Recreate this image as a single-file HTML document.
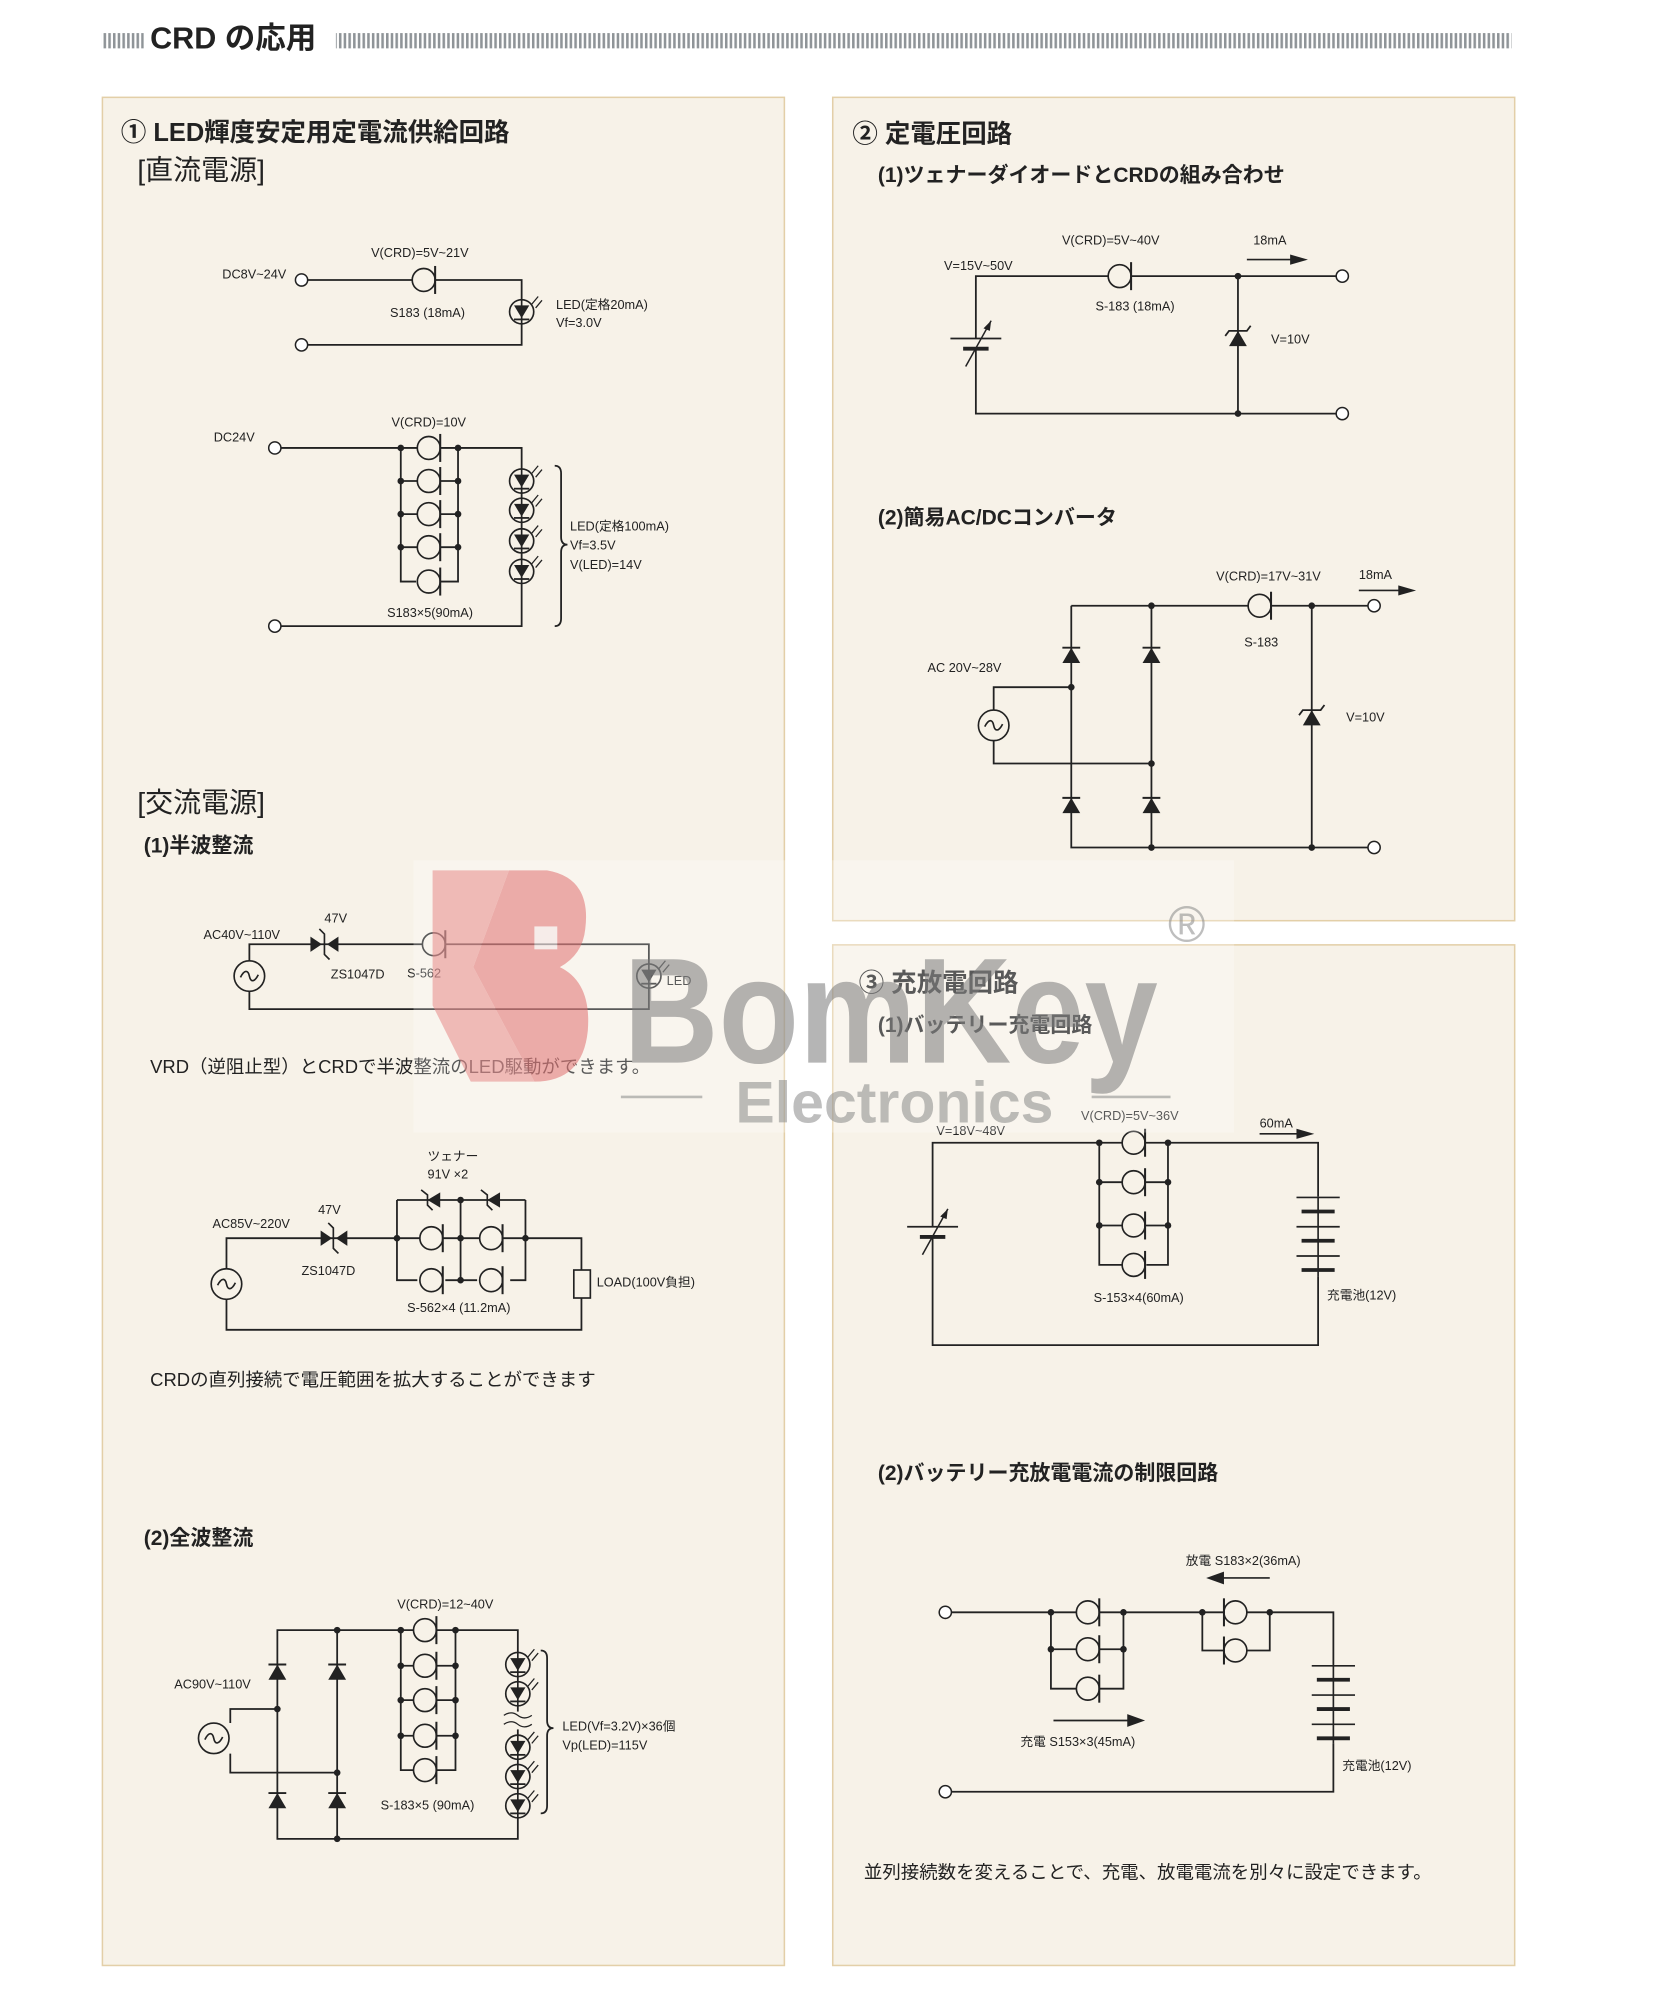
<!DOCTYPE html>
<html><head><meta charset="utf-8">
<style>
html,body{margin:0;padding:0;background:#fff;}
svg{display:block;}
text{font-family:"Liberation Sans","Noto Sans CJK JP",sans-serif;fill:#222;}
.h1{font-size:20px;font-weight:bold;}
.h2{font-size:16.5px;font-weight:bold;}
.br{font-size:22px;}
.lb{font-size:10px;}
.tx{font-size:14.5px;}
.w{stroke:#222;stroke-width:1.4;fill:none;}
</style></head>
<body>
<svg width="1654" height="2003" viewBox="0 0 1300 1574" preserveAspectRatio="none" xmlns="http://www.w3.org/2000/svg">
<defs>
<pattern id="bars" width="3.7" height="10" patternUnits="userSpaceOnUse"><rect x="0" y="0" width="2" height="10" fill="#8f9498"/></pattern>
<g id="crd"><circle cx="0" cy="0" r="9" fill="#f7f2e8" stroke="#222" stroke-width="1.3"/><line x1="9" y1="-11" x2="9" y2="11" stroke="#222" stroke-width="1.6"/></g>
<g id="led"><circle cx="0" cy="0" r="9.5" fill="#f7f2e8" stroke="#222" stroke-width="1.3"/><polygon points="-6,-5 6,-5 0,5" fill="#222"/><line x1="-6" y1="6" x2="6" y2="6" stroke="#222" stroke-width="1.4"/><line x1="0" y1="-10" x2="0" y2="10" stroke="#222" stroke-width="1.3"/><path d="M8,-6 L13,-12 M11,-3 L16,-9" stroke="#222" stroke-width="1"/></g>
<g id="dup"><polygon points="-7,6 7,6 0,-6" fill="#222"/><line x1="-7" y1="-6" x2="7" y2="-6" stroke="#222" stroke-width="1.5"/></g>
<g id="zup"><polygon points="-7,6 7,6 0,-6" fill="#222"/><path d="M-10,-2 L-7,-6 L7,-6 L10,-10" stroke="#222" stroke-width="1.4" fill="none"/></g>
<g id="ac"><circle cx="0" cy="0" r="12" fill="#f7f2e8" stroke="#222" stroke-width="1.3"/><path d="M-7,1 C-4,-5 -1,-5 0,0 C1,5 4,5 7,-1" stroke="#222" stroke-width="1.3" fill="none"/></g>
<g id="dot"><circle r="2.6" fill="#222"/></g>
<g id="term"><circle r="4.8" fill="#fff" stroke="#222" stroke-width="1.2"/></g>
<g id="vbat"><line x1="-20" y1="-4" x2="20" y2="-4" stroke="#222" stroke-width="1.3"/><line x1="-10" y1="4" x2="10" y2="4" stroke="#222" stroke-width="3"/><path d="M-8,18 L12,-18" stroke="#222" stroke-width="1.2"/><polygon points="12,-18 6,-12 11,-10" fill="#222"/></g>
<g id="cell"><line x1="-17" y1="0" x2="17" y2="0" stroke="#222" stroke-width="1.3"/><line x1="-13" y1="11" x2="13" y2="11" stroke="#222" stroke-width="3"/></g>
</defs>

<rect x="0" y="0" width="1300" height="1574" fill="#fff"/>
<!-- header -->
<rect x="80" y="26" width="33" height="12" fill="url(#bars)"/>
<text x="118" y="38" style="font-size:24px;font-weight:bold">CRD の応用</text>
<rect x="264" y="26" width="924" height="12" fill="url(#bars)"/>

<!-- panels -->
<rect x="80.5" y="76.5" width="536" height="1468" fill="#f7f2e8" stroke="#e3cfa8" stroke-width="1.2"/>
<rect x="654.5" y="76.5" width="536" height="647" fill="#f7f2e8" stroke="#e3cfa8" stroke-width="1.2"/>
<rect x="654.5" y="742.5" width="536" height="802" fill="#f7f2e8" stroke="#e3cfa8" stroke-width="1.2"/>

<!-- LEFT PANEL -->
<text x="95" y="111" class="h1">① LED輝度安定用定電流供給回路</text>
<text x="108" y="141" class="br">[直流電源]</text>

<path class="w" d="M242,220 H410 V271 H242"/>
<use href="#crd" x="333" y="220"/>
<use href="#led" x="410" y="245"/>
<use href="#term" x="237" y="220"/><use href="#term" x="237" y="271"/>
<text x="330" y="202" class="lb" text-anchor="middle">V(CRD)=5V~21V</text>
<text x="225" y="219" class="lb" text-anchor="end">DC8V~24V</text>
<text x="336" y="249" class="lb" text-anchor="middle">S183 (18mA)</text>
<text x="437" y="243" class="lb">LED(定格20mA)</text>
<text x="437" y="257" class="lb">Vf=3.0V</text>

<path class="w" d="M221,352 H410 V492 H221 M315,352 V457 H327 M360,352 V457 H346 M315,378 H360 M315,404 H360 M315,430 H360"/>
<use href="#crd" x="337" y="352"/><use href="#crd" x="337" y="378"/><use href="#crd" x="337" y="404"/><use href="#crd" x="337" y="430"/><use href="#crd" x="337" y="457"/>
<use href="#dot" x="315" y="352"/><use href="#dot" x="360" y="352"/><use href="#dot" x="315" y="378"/><use href="#dot" x="360" y="378"/><use href="#dot" x="315" y="404"/><use href="#dot" x="360" y="404"/><use href="#dot" x="315" y="430"/><use href="#dot" x="360" y="430"/>
<use href="#led" x="410" y="378"/><use href="#led" x="410" y="401"/><use href="#led" x="410" y="425"/><use href="#led" x="410" y="449"/>
<use href="#term" x="216" y="352"/><use href="#term" x="216" y="492"/>
<path class="w" d="M436,366 Q441,366 441,372 V422 Q441,428 446,428 Q441,428 441,434 V486 Q441,492 436,492" stroke-width="1.1"/>
<text x="337" y="335" class="lb" text-anchor="middle">V(CRD)=10V</text>
<text x="168" y="347" class="lb">DC24V</text>
<text x="338" y="485" class="lb" text-anchor="middle">S183×5(90mA)</text>
<text x="448" y="417" class="lb">LED(定格100mA)</text>
<text x="448" y="432" class="lb">Vf=3.5V</text>
<text x="448" y="447" class="lb">V(LED)=14V</text>

<text x="108" y="638" class="br">[交流電源]</text>
<text x="113" y="670" class="h2">(1)半波整流</text>

<path class="w" d="M196,755 V742 H510 V793 H196 V779"/>
<polygon points="244,736 244,748 253,742" fill="#222"/><polygon points="266,736 266,748 257,742" fill="#222"/>
<path d="M251,730 L255,734 V750 L259,754" stroke="#222" stroke-width="1.3" fill="none"/>
<use href="#crd" x="341" y="742"/>
<use href="#led" x="510" y="767"/>
<use href="#ac" x="196" y="767"/>
<text x="160" y="738" class="lb">AC40V~110V</text>
<text x="255" y="725" class="lb">47V</text>
<text x="260" y="769" class="lb">ZS1047D</text>
<text x="320" y="768" class="lb" fill="#555">S-562</text>
<text x="524" y="774" class="lb">LED</text>
<text x="118" y="843" class="tx">VRD（逆阻止型）とCRDで半波整流のLED駆動ができます。</text>

<path class="w" d="M178,997 V973 H413 H457 V998 M457,1020 V1045 H178 V1021 M312,943 V1006 H328 M362,943 V1006 M413,943 V1006 H401 M312,943 H413 M350,1006 H375"/>
<polygon points="252,967 252,979 261,973" fill="#222"/><polygon points="273,967 273,979 264,973" fill="#222"/>
<path d="M258,961 L262,965 V981 L266,985" stroke="#222" stroke-width="1.3" fill="none"/>
<polygon points="346,937 346,949 336,943" fill="#222"/><path d="M331,935 L336,939 V947 L340,951" stroke="#222" stroke-width="1.3" fill="none"/>
<polygon points="393,937 393,949 383,943" fill="#222"/><path d="M378,935 L383,939 V947 L387,951" stroke="#222" stroke-width="1.3" fill="none"/>
<use href="#crd" x="339" y="973"/><use href="#crd" x="386" y="973"/><use href="#crd" x="339" y="1006"/><use href="#crd" x="386" y="1006"/>
<use href="#dot" x="312" y="973"/><use href="#dot" x="362" y="943"/><use href="#dot" x="362" y="973"/><use href="#dot" x="362" y="1006"/><use href="#dot" x="413" y="973"/>
<rect x="451" y="998" width="13" height="22" fill="#f7f2e8" stroke="#222" stroke-width="1.3"/>
<use href="#ac" x="178" y="1009"/>
<text x="336" y="912" class="lb">ツェナー</text>
<text x="336" y="926" class="lb">91V ×2</text>
<text x="167" y="965" class="lb">AC85V~220V</text>
<text x="250" y="954" class="lb">47V</text>
<text x="237" y="1002" class="lb">ZS1047D</text>
<text x="469" y="1011" class="lb">LOAD(100V負担)</text>
<text x="320" y="1031" class="lb">S-562×4 (11.2mA)</text>
<text x="118" y="1089" class="tx">CRDの直列接続で電圧範囲を拡大することができます</text>

<text x="113" y="1214" class="h2">(2)全波整流</text>
<path class="w" d="M218,1281 H407 V1445 H218 Z M265,1281 V1445 M181,1354 V1343 H218 M181,1378 V1393 H265 M315,1281 V1391 H326 M358,1281 V1391 H343 M315,1309 H358 M315,1336 H358 M315,1364 H358"/>
<use href="#dup" x="218" y="1314"/><use href="#dup" x="265" y="1314"/><use href="#dup" x="218" y="1415"/><use href="#dup" x="265" y="1415"/>
<use href="#ac" x="168" y="1366"/>
<use href="#crd" x="334" y="1281"/><use href="#crd" x="334" y="1309"/><use href="#crd" x="334" y="1336"/><use href="#crd" x="334" y="1364"/><use href="#crd" x="334" y="1391"/>
<use href="#dot" x="265" y="1281"/><use href="#dot" x="265" y="1445"/><use href="#dot" x="218" y="1343"/><use href="#dot" x="265" y="1393"/>
<use href="#dot" x="315" y="1281"/><use href="#dot" x="358" y="1281"/><use href="#dot" x="315" y="1309"/><use href="#dot" x="358" y="1309"/><use href="#dot" x="315" y="1336"/><use href="#dot" x="358" y="1336"/><use href="#dot" x="315" y="1364"/><use href="#dot" x="358" y="1364"/>
<rect x="398" y="1345" width="18" height="14" fill="#f7f2e8"/>
<path d="M396,1348 Q402,1344 407,1348 T418,1348 M396,1355 Q402,1351 407,1355 T418,1355" stroke="#222" stroke-width="1" fill="none"/>
<use href="#led" x="407" y="1308"/><use href="#led" x="407" y="1331"/><use href="#led" x="407" y="1373"/><use href="#led" x="407" y="1396"/><use href="#led" x="407" y="1419"/>
<path class="w" d="M425,1297 Q430,1297 430,1303 V1352 Q430,1358 435,1358 Q430,1358 430,1364 V1419 Q430,1425 425,1425" stroke-width="1.1"/>
<text x="350" y="1264" class="lb" text-anchor="middle">V(CRD)=12~40V</text>
<text x="137" y="1327" class="lb">AC90V~110V</text>
<text x="336" y="1422" class="lb" text-anchor="middle">S-183×5 (90mA)</text>
<text x="442" y="1360" class="lb">LED(Vf=3.2V)×36個</text>
<text x="442" y="1375" class="lb">Vp(LED)=115V</text>

<!-- RIGHT PANEL 2 -->
<text x="670" y="112" class="h1">② 定電圧回路</text>
<text x="690" y="143" class="h2">(1)ツェナーダイオードとCRDの組み合わせ</text>
<path class="w" d="M767,266 V217 H1050 M973,217 V325 M767,274 V325 H1050"/>
<use href="#crd" x="880" y="217"/>
<use href="#dot" x="973" y="217"/><use href="#dot" x="973" y="325"/>
<use href="#zup" x="973" y="266"/>
<use href="#vbat" x="767" y="270"/>
<use href="#term" x="1055" y="217"/><use href="#term" x="1055" y="325"/>
<path d="M980,204 H1016" stroke="#222" stroke-width="1.3"/><polygon points="1014,200 1028,204 1014,208" fill="#222"/>
<text x="873" y="192" class="lb" text-anchor="middle">V(CRD)=5V~40V</text>
<text x="985" y="192" class="lb">18mA</text>
<text x="742" y="212" class="lb">V=15V~50V</text>
<text x="861" y="244" class="lb">S-183 (18mA)</text>
<text x="999" y="270" class="lb">V=10V</text>

<text x="690" y="412" class="h2">(2)簡易AC/DCコンバータ</text>
<path class="w" d="M842,476 H1075 M842,476 V666 H1075 M905,476 V666 M781,558 V540 H842 M781,582 V600 H905 M1031,476 V666"/>
<use href="#dup" x="842" y="515"/><use href="#dup" x="905" y="515"/><use href="#dup" x="842" y="633"/><use href="#dup" x="905" y="633"/>
<use href="#ac" x="781" y="570"/>
<use href="#crd" x="990" y="476"/>
<use href="#zup" x="1031" y="564"/>
<use href="#dot" x="905" y="476"/><use href="#dot" x="1031" y="476"/><use href="#dot" x="842" y="540"/><use href="#dot" x="905" y="600"/><use href="#dot" x="905" y="666"/><use href="#dot" x="1031" y="666"/>
<use href="#term" x="1080" y="476"/><use href="#term" x="1080" y="666"/>
<path d="M1068,464 H1101" stroke="#222" stroke-width="1.3"/><polygon points="1099,460 1113,464 1099,468" fill="#222"/>
<text x="997" y="456" class="lb" text-anchor="middle">V(CRD)=17V~31V</text>
<text x="1068" y="455" class="lb">18mA</text>
<text x="978" y="508" class="lb">S-183</text>
<text x="729" y="528" class="lb">AC 20V~28V</text>
<text x="1058" y="567" class="lb">V=10V</text>

<!-- RIGHT PANEL 3 -->
<text x="675" y="779" class="h1">③ 充放電回路</text>
<text x="690" y="811" class="h2">(1)バッテリー充電回路</text>
<path class="w" d="M733,964 V898 H1036 V940 M733,972 V1057 H1036 V1003 M864,898 V994 H882 M918,898 V994 H901 M864,929 H918 M864,963 H918"/>
<use href="#crd" x="891" y="898"/><use href="#crd" x="891" y="929"/><use href="#crd" x="891" y="963"/><use href="#crd" x="891" y="994"/>
<use href="#dot" x="864" y="898"/><use href="#dot" x="918" y="898"/><use href="#dot" x="864" y="929"/><use href="#dot" x="918" y="929"/><use href="#dot" x="864" y="963"/><use href="#dot" x="918" y="963"/>
<use href="#vbat" x="733" y="968"/>
<path d="M1036,940 V1003" stroke="#222" stroke-width="1.3"/>
<use href="#cell" x="1036" y="941"/><use href="#cell" x="1036" y="964"/><use href="#cell" x="1036" y="987"/>
<path d="M990,891 H1021" stroke="#222" stroke-width="1.3"/><polygon points="1019,887 1033,891 1019,895" fill="#222"/>
<text x="888" y="880" class="lb" text-anchor="middle">V(CRD)=5V~36V</text>
<text x="990" y="886" class="lb">60mA</text>
<text x="736" y="892" class="lb">V=18V~48V</text>
<text x="895" y="1023" class="lb" text-anchor="middle">S-153×4(60mA)</text>
<text x="1043" y="1021" class="lb">充電池(12V)</text>

<text x="690" y="1163" class="h2">(2)バッテリー充放電電流の制限回路</text>
<path class="w" d="M748,1267 H1048 V1308 M1048,1370 V1408 H748 M826,1267 V1327 H846 M883,1267 V1327 H864 M826,1296 H883 M945,1267 V1297 H962 M998,1267 V1297 H980"/>
<use href="#crd" x="855" y="1267"/><use href="#crd" x="855" y="1296"/><use href="#crd" x="855" y="1327"/>
<g transform="translate(971,1267) scale(-1,1)"><use href="#crd"/></g>
<g transform="translate(971,1297) scale(-1,1)"><use href="#crd"/></g>
<use href="#dot" x="826" y="1267"/><use href="#dot" x="883" y="1267"/><use href="#dot" x="826" y="1296"/><use href="#dot" x="883" y="1296"/><use href="#dot" x="945" y="1267"/><use href="#dot" x="998" y="1267"/>
<path d="M1048,1308 V1370" stroke="#222" stroke-width="1.3"/>
<use href="#cell" x="1048" y="1309"/><use href="#cell" x="1048" y="1332"/><use href="#cell" x="1048" y="1355"/>
<use href="#term" x="743" y="1267"/><use href="#term" x="743" y="1408"/>
<path d="M828,1352 H888" stroke="#222" stroke-width="1.3"/><polygon points="886,1347 900,1352 886,1357" fill="#222"/>
<path d="M998,1240 H960" stroke="#222" stroke-width="1.3"/><polygon points="962,1235 948,1240 962,1245" fill="#222"/>
<text x="932" y="1230" class="lb">放電 S183×2(36mA)</text>
<text x="802" y="1372" class="lb">充電 S153×3(45mA)</text>
<text x="1055" y="1391" class="lb">充電池(12V)</text>
<text x="679" y="1476" class="tx">並列接続数を変えることで、充電、放電電流を別々に設定できます。</text>

<!-- watermark -->
<rect x="325" y="676" width="645" height="214" fill="#ffffff" opacity="0.25"/>
<g opacity="0.55">
<polygon points="340,684 400,684 372,760 420,850 370,850 340,790" fill="#e88a8a"/>
<path d="M400,684 H430 Q465,690 460,730 Q458,750 440,760 Q465,772 462,810 Q458,850 420,850 L372,760 Z" fill="#e06f6f"/>
<rect x="420" y="728" width="18" height="18" fill="#f5e5e5"/>
<text x="490" y="835" textLength="420" lengthAdjust="spacingAndGlyphs" style="font-size:118px;font-weight:bold;fill:#7a7a7a">BomKey</text>
<text x="578" y="882" textLength="250" lengthAdjust="spacingAndGlyphs" style="font-size:46px;font-weight:bold;fill:#8a8a8a">Electronics</text>
<line x1="488" y1="862" x2="552" y2="862" stroke="#8a8a8a" stroke-width="2"/>
<line x1="858" y1="862" x2="920" y2="862" stroke="#8a8a8a" stroke-width="2"/>
<text x="918" y="740" style="font-size:40px;fill:#8a8a8a">®</text>
</g>
</svg>
</body></html>
